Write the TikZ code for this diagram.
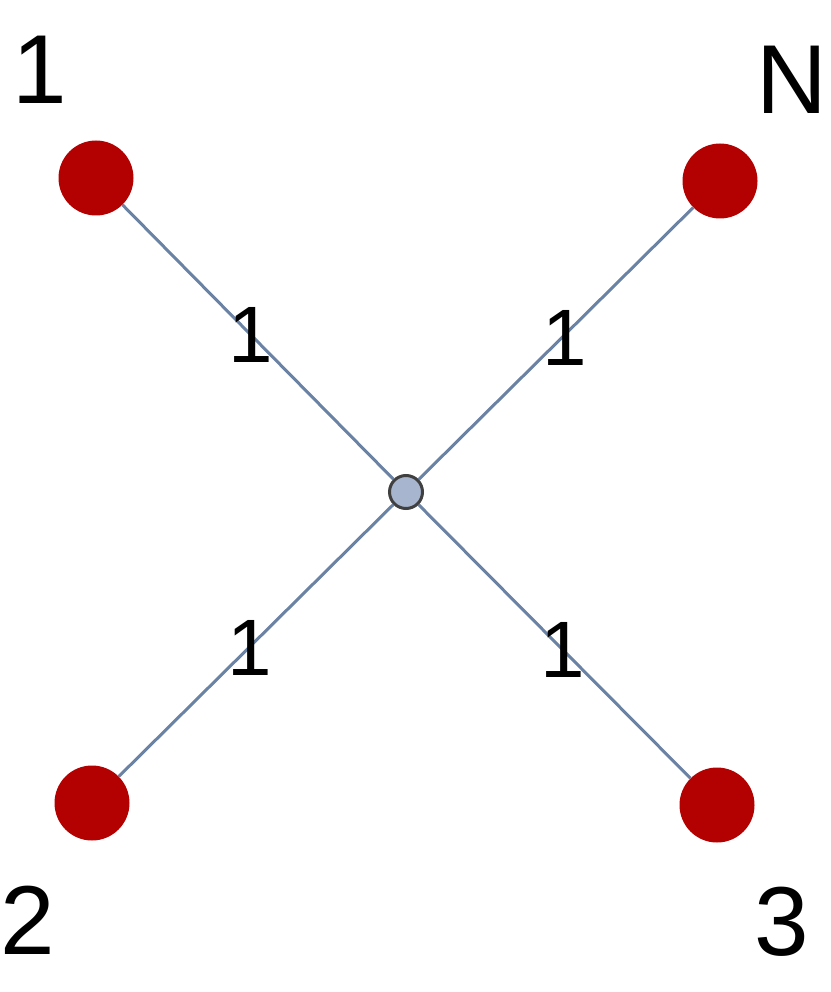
\documentclass[tikz,border=0pt]{standalone}
\usepackage{fontspec}
\setmainfont{Liberation Sans}
\definecolor{nodered}{HTML}{B30000}
\definecolor{edgeblue}{HTML}{6A82A3}
\definecolor{hubfill}{HTML}{A7B5CE}
\definecolor{hubdraw}{HTML}{404040}
\begin{document}
\begin{tikzpicture}[x=1pt,y=-1pt,
  leaf/.style={circle,fill=nodered,minimum size=75pt,inner sep=0pt},
  hub/.style={circle,fill=hubfill,draw=hubdraw,line width=3pt,minimum size=33pt,inner sep=0pt},
  edge/.style={draw=edgeblue,line width=3pt},
  big/.style={font=\fontsize{98}{98}\selectfont,inner sep=0pt},
  wlab/.style={font=\fontsize{80}{80}\selectfont,inner sep=0pt}]
\useasboundingbox (0,0) rectangle (830,992);
\node[leaf] (n1) at (96,178) {};
\node[leaf] (nN) at (720,181) {};
\node[leaf] (n2) at (92,803) {};
\node[leaf] (n3) at (717,805) {};
\node[hub] (c) at (406,492) {};
\draw[edge] (c) -- (n1);
\draw[edge] (c) -- (nN);
\draw[edge] (c) -- (n2);
\draw[edge] (c) -- (n3);
\node[big] (t1) at (40,70) {1};
\node[big] (tN) at (792,80) {N};
\node[big] (t2) at (28,920) {2};
\node[big] (t3) at (782,922) {3};
\node[wlab] (w1) at (251,335) {1};
\node[wlab] (wN) at (565,338) {1};
\node[wlab] (w2) at (250,648) {1};
\node[wlab] (w3) at (563,650) {1};
\end{tikzpicture}
\end{document}
